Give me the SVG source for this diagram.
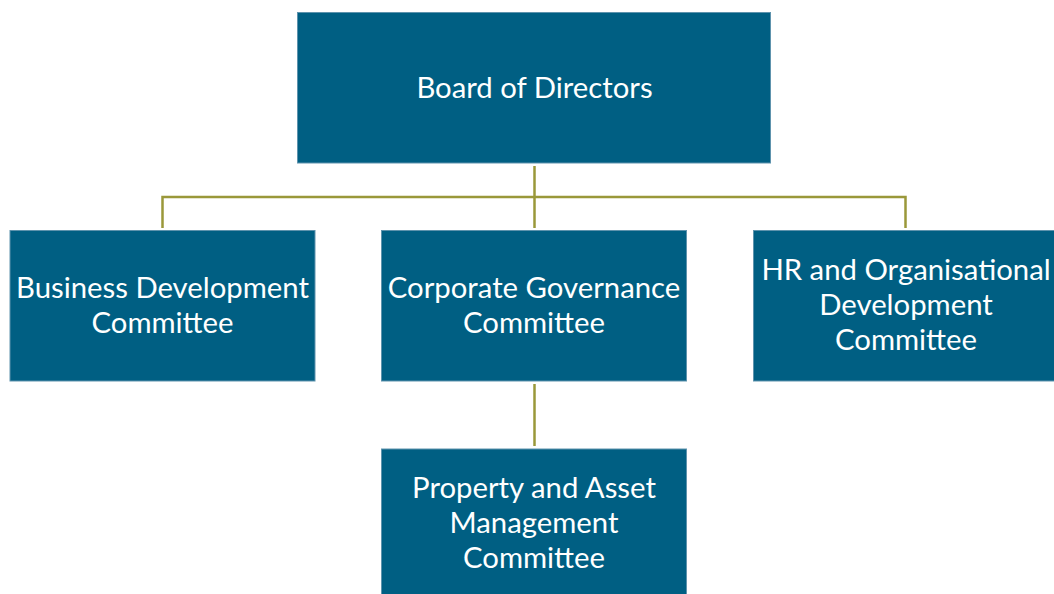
<svg xmlns="http://www.w3.org/2000/svg" width="1054" height="594" viewBox="0 0 1054 594">
  <style>
    .box { fill: #005F83; stroke: #5E93AD; stroke-width: 1; }
    .label { fill: #FFFFFF; font-family: Lato, "Open Sans", "Liberation Sans", sans-serif; font-size: 29.3px; text-anchor: middle; }
    .link { fill: none; stroke: #9A983A; stroke-width: 2.5; }
  </style>
  <rect width="1054" height="594" fill="#FFFFFF"/>

  <g id="connectors">
    <line class="link" x1="534.5" y1="166" x2="534.5" y2="228"/>
    <polyline class="link" points="162.5,228 162.5,197 905.5,197 905.5,228"/>
    <line class="link" x1="534.5" y1="384" x2="534.5" y2="446"/>
  </g>

  <g id="board">
    <rect class="box" x="297.5" y="12.5" width="473" height="150.5"/>
    <text class="label" x="534.5" y="98">Board of Directors</text>
  </g>

  <g id="business-development">
    <rect class="box" x="10" y="230.5" width="305" height="150.5"/>
    <text class="label" x="162.5" y="298">Business Development</text>
    <text class="label" x="162.5" y="333">Committee</text>
  </g>

  <g id="corporate-governance">
    <rect class="box" x="381.5" y="230.5" width="305" height="150.5"/>
    <text class="label" x="534" y="298">Corporate Governance</text>
    <text class="label" x="534" y="333">Committee</text>
  </g>

  <g id="hr-organisational">
    <rect class="box" x="753.5" y="230.5" width="305" height="150.5"/>
    <text class="label" x="906" y="280">HR and Organisational</text>
    <text class="label" x="906" y="315">Development</text>
    <text class="label" x="906" y="350">Committee</text>
  </g>

  <g id="property-asset">
    <rect class="box" x="381.5" y="449" width="305" height="150.5"/>
    <text class="label" x="534" y="498">Property and Asset</text>
    <text class="label" x="534" y="533">Management</text>
    <text class="label" x="534" y="568">Committee</text>
  </g>
</svg>
